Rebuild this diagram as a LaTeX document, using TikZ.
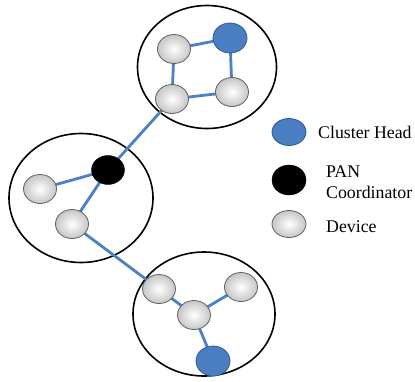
\documentclass[tikz,border=0pt]{standalone}
\usepackage{fontspec}
\setmainfont{Liberation Serif}
\usetikzlibrary{shapes.geometric}
\definecolor{linkblue}{HTML}{4A80C4}
\definecolor{headfill}{HTML}{4A7DC2}
\definecolor{headdraw}{HTML}{2E5A94}
\tikzset{
  cluster/.style={draw=black, line width=1.6pt, ellipse},
  dev/.style={ellipse, draw=gray!75!black, line width=0.8pt, inner color=white, outer color=gray!45, minimum width=33pt, minimum height=29pt, inner sep=0pt},
  head/.style={ellipse, draw=headdraw, line width=0.8pt, fill=headfill, minimum width=34pt, minimum height=30pt, inner sep=0pt},
  pan/.style={ellipse, draw=black, fill=black, minimum width=33pt, minimum height=29pt, inner sep=0pt},
  link/.style={draw=linkblue, line width=2.8pt},
  lbl/.style={anchor=base west, inner sep=0pt, font=\fontsize{17.8}{21}\selectfont}
}
\begin{document}
\begin{tikzpicture}[x=1pt, y=-1pt]
\useasboundingbox (0,0) rectangle (415,381);
% cluster circles
\node[cluster, minimum width=139pt, minimum height=123pt] (c1) at (207,67) {};
\node[cluster, minimum width=144pt, minimum height=129pt] (c2) at (81,198) {};
\node[cluster, minimum width=142pt, minimum height=124pt] (c3) at (204,314) {};
% positions
\coordinate (t1) at (174,49);
\coordinate (t2) at (230,38);
\coordinate (t3) at (172,99);
\coordinate (t4) at (232,92);
\coordinate (m1) at (108,170);
\coordinate (m2) at (40,189);
\coordinate (m3) at (72,224);
\coordinate (b1) at (159,289);
\coordinate (b2) at (241,287);
\coordinate (b3) at (194,315);
\coordinate (b4) at (213,361);
\draw[link] (t1) -- (t2) (t1) -- (t3) (t2) -- (t4) (t3) -- (t4) (t3) -- (m1)
  (m1) -- (m2) (m1) -- (m3) (m3) -- (b1) (b1) -- (b3) (b2) -- (b3) (b3) -- (b4);
% nodes
\node[dev] (n1) at (t1) {};
\node[head] (n2) at (t2) {};
\node[dev] (n3) at (t3) {};
\node[dev] (n4) at (t4) {};
\node[pan] (p1) at (m1) {};
\node[dev] (n5) at (m2) {};
\node[dev] (n6) at (m3) {};
\node[dev] (n7) at (b1) {};
\node[dev] (n8) at (b2) {};
\node[dev] (n9) at (b3) {};
\node[head] (n10) at (b4) {};
% legend
\node[head, minimum height=27pt] (lg1) at (289,132) {};
\node[pan, minimum width=34pt, minimum height=30pt] (lg2) at (289,180) {};
\node[dev, minimum width=34pt, minimum height=27pt] (lg3) at (289,224) {};
\node[lbl] (l1) at (318,138) {Cluster Head};
\node[lbl] (l2) at (326,177) {PAN};
\node[lbl] (l3) at (326,198) {Coordinator};
\node[lbl] (l4) at (326,232) {Device};
\end{tikzpicture}
\end{document}
